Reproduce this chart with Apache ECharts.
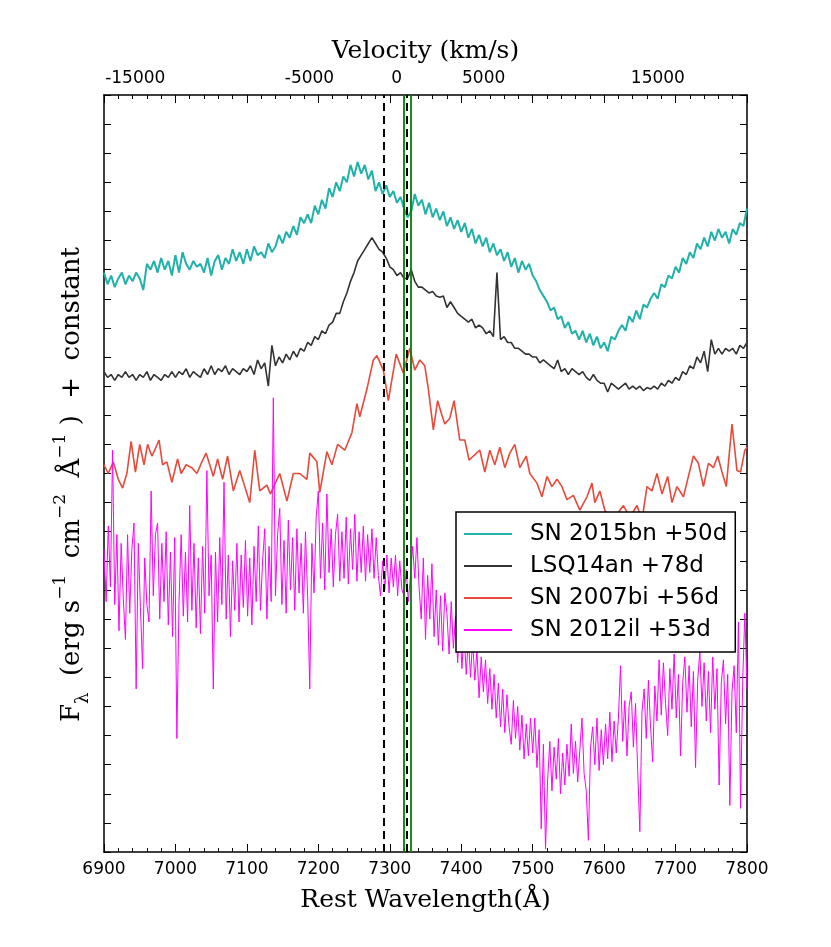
<!DOCTYPE html>
<html>
<head>
<meta charset="utf-8">
<title>SN 2015bn nebular line comparison</title>
<script src="https://cdn.jsdelivr.net/npm/echarts@6/dist/echarts.min.js"></script>
<style>
  html, body { margin: 0; padding: 0; background: #fff; }
  #chart { width: 831px; height: 947px; }
</style>
</head>
<body>
<div id="chart"></div>
<script>
// wavelength grids (Angstrom)
var wave5 = [];
for (var i = 0; i <= 180; i++) wave5.push(6900 + 5 * i);
var wave3 = [];
for (var j = 0; j <= 300; j++) wave3.push(6900 + 3 * j);

// SN 2015bn +50d, sampled every 5 A
var cyanFlux = [
  19.9, 19.5, 19.8, 19.4, 19.7, 19.9, 19.5, 19.8, 19.6, 19.9, 19.7, 19.3, 20.2, 20.0, 20.3, 19.9, 20.4, 20.0, 20.3, 19.8,
  20.5, 19.9, 20.6, 20.2, 20.0, 20.3, 20.1, 20.2, 19.9, 20.4, 19.8, 20.3, 20.5, 20.0, 20.4, 20.2, 20.7, 20.3, 20.6, 20.2,
  20.7, 20.3, 20.8, 20.5, 20.6, 20.4, 20.9, 20.6, 20.8, 21.2, 20.9, 21.3, 21.1, 21.5, 21.2, 21.8, 21.6, 21.9, 21.6, 22.2,
  21.9, 22.4, 22.1, 22.8, 22.5, 23.0, 22.7, 23.2, 23.0, 23.6, 23.2, 23.7, 23.3, 23.6, 23.1, 23.4, 22.7, 23.0, 22.6, 22.9,
  22.5, 22.7, 22.3, 22.5, 22.1, 21.8, 22.0, 22.6, 22.2, 22.4, 21.9, 22.3, 21.8, 22.1, 21.7, 22.0, 21.5, 21.8, 21.4, 21.7,
  21.3, 21.6, 21.1, 21.4, 20.9, 21.2, 20.8, 21.1, 20.6, 20.9, 20.5, 20.7, 20.3, 20.6, 20.1, 20.4, 19.9, 20.3, 20.0, 20.2,
  19.8, 19.6, 19.3, 19.1, 18.9, 18.6, 18.7, 18.3, 18.4, 18.0, 18.2, 17.8, 17.9, 17.6, 17.9, 17.5, 17.8, 17.4, 17.7, 17.3,
  17.5, 17.2, 17.7, 17.6, 17.9, 18.1, 17.9, 18.4, 18.2, 18.6, 18.3, 18.8, 18.7, 19.0, 19.2, 19.0, 19.5, 19.4, 19.8, 19.7,
  20.1, 19.9, 20.4, 20.2, 20.6, 20.4, 20.9, 20.7, 21.1, 20.8, 21.3, 21.0, 21.4, 21.1, 21.3, 20.9, 21.4, 21.2, 21.6, 21.5, 22.1
];

// LSQ14an +78d, sampled every 5 A
var blackFlux = [
  16.5, 16.3, 16.4, 16.2, 16.4, 16.3, 16.5, 16.3, 16.4, 16.2, 16.4, 16.3, 16.5, 16.2, 16.4, 16.3, 16.2, 16.4, 16.3, 16.5,
  16.3, 16.5, 16.4, 16.6, 16.3, 16.5, 16.4, 16.3, 16.6, 16.4, 16.7, 16.4, 16.6, 16.5, 16.7, 16.4, 16.6, 16.5, 16.4, 16.6,
  16.5, 16.7, 16.4, 16.9, 16.6, 16.8, 16.0, 17.4, 16.7, 17.0, 16.8, 17.1, 16.9, 17.2, 17.0, 17.3, 17.2, 17.5, 17.4, 17.7,
  17.6, 17.9, 17.8, 18.1, 18.2, 18.5, 18.5, 18.9, 19.2, 19.6, 19.9, 20.3, 20.5, 20.7, 20.9, 21.1, 20.9, 20.7, 20.6, 20.4,
  20.1, 20.0, 19.8, 19.9, 19.7, 19.7, 20.0, 19.6, 19.4, 19.4, 19.3, 19.2, 19.25, 19.1, 19.05, 19.1, 18.7, 18.9, 18.7, 18.5,
  18.4, 18.3, 18.2, 18.3, 18.0, 18.1, 18.0, 17.8, 17.9, 17.7, 19.9, 17.6, 17.7, 17.5, 17.5, 17.3, 17.3, 17.2, 17.1, 17.1,
  17.0, 17.0, 16.8, 16.9, 16.8, 16.7, 16.6, 16.9, 16.5, 16.6, 16.4, 16.6, 16.5, 16.4, 16.5, 16.3, 16.2, 16.4, 16.2, 16.1,
  16.1, 15.8, 16.1, 16.0, 15.9, 16.0, 16.1, 15.9, 16.0, 15.9, 16.0, 15.85, 15.95, 15.9, 16.0, 15.9, 16.1, 16.0, 16.2, 16.1,
  16.3, 16.2, 16.5, 16.4, 16.7, 16.6, 17.0, 16.8, 17.2, 16.5, 17.6, 17.1, 17.3, 17.1, 17.3, 17.2, 17.3, 17.1, 17.4, 17.3, 17.5
];

// SN 2007bi +56d (irregular sampling)
var redWave = [
  6900, 6906, 6913, 6920, 6926, 6932, 6938, 6944, 6950, 6956,
  6961, 6967, 6971, 6977, 6982, 6988, 6995, 7003, 7008, 7015,
  7023, 7030, 7037, 7043, 7053, 7059, 7066, 7073, 7081, 7090,
  7104, 7111, 7118, 7128, 7133, 7146, 7156, 7165, 7174, 7184,
  7188, 7198, 7202, 7212, 7219, 7227, 7237, 7247, 7254, 7258,
  7268, 7277, 7282, 7291, 7298, 7309, 7319, 7328, 7335, 7342,
  7349, 7354, 7361, 7367, 7373, 7377, 7384, 7390, 7398, 7405,
  7411, 7417, 7426, 7433, 7440, 7447, 7454, 7461, 7468, 7475,
  7482, 7491, 7496, 7506, 7513, 7520, 7527, 7534, 7541, 7548,
  7557, 7566, 7576, 7583, 7587, 7594, 7601, 7608, 7618, 7627,
  7636, 7646, 7653, 7660, 7667, 7674, 7681, 7689, 7695, 7702,
  7711, 7718, 7725, 7732, 7739, 7746, 7753, 7759, 7765, 7771,
  7779, 7786, 7791, 7797, 7800
];
var redFlux = [
  13.3, 13.0, 13.4, 12.8, 12.5, 13.0, 14.1, 13.05, 14.0, 13.3,
  14.0, 13.6, 13.8, 14.15, 13.3, 13.4, 12.7, 13.5, 13.0, 13.3,
  13.2, 13.0, 13.4, 13.7, 12.9, 13.5, 12.8, 13.6, 12.4, 13.1,
  12.0, 13.8, 12.4, 12.6, 12.3, 13.0, 12.05, 13.0, 13.0, 12.8,
  13.7, 13.4, 12.35, 13.75, 13.3, 14.0, 13.8, 14.4, 15.4, 14.95,
  15.9, 16.9, 17.05, 16.55, 15.5, 17.1, 16.45, 17.3, 16.55, 16.9,
  16.7, 15.9, 14.5, 15.5, 15.0, 14.7, 14.9, 15.5, 14.15, 14.15,
  13.46, 13.6, 13.8, 13.05, 13.8, 13.3, 13.9, 13.2, 13.7, 14.0,
  13.2, 13.6, 13.0, 12.67, 12.2, 12.9, 12.55, 12.8, 12.55, 12.1,
  12.25, 11.74, 12.2, 12.67, 12.0, 12.4, 11.74, 11.5, 11.6, 11.9,
  11.5, 11.9, 11.4, 12.55, 12.4, 13.0, 12.3, 12.9, 12.0, 12.55,
  12.2, 12.9, 13.6, 13.35, 12.55, 13.35, 13.2, 13.6, 13.05, 12.55,
  14.7, 13.1, 13.05, 13.8, 13.9
];

// SN 2012il +53d, sampled every 3 A
var magentaFlux = [
  10.4, 8.6, 11.2, 9.1, 13.8, 8.5, 10.9, 7.6, 10.6, 8.7, 7.3, 10.9, 8.2, 10.4, 11.3, 5.6, 10.6, 8.4, 6.3, 10.1,
  8.5, 7.9, 12.4, 8.8, 10.9, 11.3, 8.0, 10.6, 8.6, 11.0, 7.8, 10.3, 7.4, 10.8, 3.9, 8.6, 10.9, 8.1, 10.3, 7.9,
  11.9, 8.3, 10.6, 7.7, 10.1, 7.5, 10.5, 8.2, 13.1, 8.8, 10.2, 5.6, 10.3, 7.9, 10.8, 8.5, 12.7, 8.0, 10.2, 7.4,
  10.0, 8.3, 10.6, 7.9, 10.2, 8.4, 10.7, 8.1, 10.1, 7.8, 10.5, 8.6, 11.2, 8.3, 10.0, 11.1, 8.0, 10.5, 8.6, 15.6,
  8.8, 10.9, 11.8, 8.5, 10.7, 8.2, 11.4, 9.0, 10.8, 8.3, 11.1, 8.9, 10.6, 8.2, 11.0, 8.8, 5.6, 10.6, 8.9, 11.5,
  12.4, 9.4, 11.3, 9.0, 12.3, 9.6, 11.1, 9.1, 10.9, 11.6, 9.3, 11.0, 9.4, 11.5, 9.2, 11.1, 9.7, 11.6, 9.3, 11.0,
  9.6, 11.2, 9.3, 10.9, 9.6, 11.1, 9.4, 10.8, 9.5, 8.8, 10.0, 9.0, 10.2, 8.9, 10.1, 9.1, 10.2, 8.8, 10.0, 9.0,
  8.8, 9.7, 8.6, 9.5, 10.5, 9.4, 10.8, 9.1, 8.0, 10.1, 7.3, 9.5, 8.0, 9.9, 7.4, 9.0, 7.1, 8.8, 6.9, 8.9,
  8.2, 6.8, 8.6, 7.0, 8.1, 6.5, 7.9, 6.3, 7.6, 6.1, 7.4, 6.0, 7.3, 5.9, 6.9, 5.3, 6.7, 5.5, 6.6, 5.1,
  6.3, 4.9, 6.1, 4.6, 5.8, 4.3, 5.6, 4.1, 5.4, 4.3, 3.7, 5.2, 3.9, 5.0, 3.5, 4.7, 3.2, 4.4, 3.3, 4.6,
  3.4, 4.6, 2.9, 4.2, 0.8, 3.7, 0.1, 2.5, 3.8, 2.1, 3.6, 2.5, 3.9, 2.0, 3.4, 2.3, 3.7, 2.6, 4.4, 2.7,
  3.8, 2.4, 3.5, 4.6, 2.7, 2.1, 0.4, 3.6, 4.3, 3.0, 4.6, 2.8, 4.2, 3.0, 4.4, 3.2, 4.8, 3.1, 4.5, 3.4,
  4.6, 6.4, 3.8, 5.2, 3.3, 5.0, 5.5, 3.6, 5.1, 2.8, 0.7, 4.8, 5.6, 3.9, 5.9, 4.3, 3.1, 5.7, 4.5, 6.6,
  4.7, 6.5, 5.1, 4.0, 6.3, 4.9, 6.8, 4.6, 6.1, 3.3, 5.8, 6.7, 4.8, 6.4, 4.3, 6.2, 2.9, 5.9, 6.9, 5.0,
  6.5, 4.5, 6.2, 4.1, 6.7, 4.9, 6.3, 2.3, 5.8, 6.6, 4.4, 6.1, 1.6, 5.5, 6.4, 4.1, 7.9, 1.5, 5.9, 8.2, 5.6
];

// line markers
var caLines = [7291, 7324];   // [Ca II] dashed
var oLines = [7320, 7330];    // [O II] green

// top axis: velocity labels
var C_KMS = 299792.458;
var lam0 = 7309.5;
var velTicks = [-15000, -5000, 0, 5000, 15000];
var velTickLam = velTicks.map(function (v) { return lam0 * (1 + v / C_KMS); });

var names = ['SN 2015bn +50d', 'LSQ14an +78d', 'SN 2007bi +56d', 'SN 2012il +53d'];
var colors = ['#20b2aa', '#333333', '#e8493a', '#ff00ff'];

function zip(xs, ys) {
  return ys.map(function (y, k) { return [xs[k], y]; });
}

var myChart = echarts.init(document.getElementById('chart'), null, { renderer: 'canvas' });

var axisCommon = {
  type: 'value',
  min: 6900,
  max: 7800,
  interval: 100,
  axisLine: { show: true, onZero: false, lineStyle: { color: '#000', width: 1.5 } },
  axisTick: { show: true, inside: true, length: 8, lineStyle: { color: '#000', width: 1 } },
  minorTick: { show: true, splitNumber: 5, length: 4, lineStyle: { color: '#000', width: 1 } },
  splitLine: { show: false }
};

var yCommon = {
  type: 'value',
  min: 0,
  max: 26,
  interval: 1,
  axisLine: { show: true, onZero: false, lineStyle: { color: '#000', width: 1.5 } },
  axisTick: { show: true, inside: true, length: 7, lineStyle: { color: '#000', width: 1 } },
  axisLabel: { show: false },
  splitLine: { show: false }
};

var option = {
  animation: false,
  backgroundColor: '#fff',
  grid: { left: 104, right: 84, top: 95, bottom: 95 },
  xAxis: [
    Object.assign({}, axisCommon, {
      position: 'bottom',
      axisLabel: {
        color: '#000', fontFamily: 'DejaVu Sans', fontSize: 17, margin: 9,
        formatter: function (val) { return String(val); }
      },
      name: 'Rest Wavelength(Å)',
      nameLocation: 'middle',
      nameGap: 36,
      nameTextStyle: { color: '#000', fontFamily: 'DejaVu Serif', fontSize: 25 }
    }),
    Object.assign({}, axisCommon, {
      position: 'top',
      axisLabel: {
        color: '#000', fontFamily: 'DejaVu Sans', fontSize: 17, margin: 8,
        customValues: velTickLam,
        formatter: function (val) {
          var v = Math.round(C_KMS * (val / lam0 - 1) / 100) * 100;
          return String(v);
        }
      },
      name: 'Velocity (km/s)',
      nameLocation: 'middle',
      nameGap: 31,
      nameTextStyle: { color: '#000', fontFamily: 'DejaVu Serif', fontSize: 25 }
    })
  ],
  yAxis: [
    Object.assign({}, yCommon, {
      position: 'left',
      name: '{t|F}{sub|λ}{t|  (erg s}{sup|−1}{t|  cm}{sup|−2}{t|  Å}{sup|−1}{t| )  +  constant}',
      nameLocation: 'middle',
      nameRotate: 90,
      nameGap: 12,
      nameTextStyle: {
        color: '#000',
        padding: [0, 22, 0, 0],
        rich: {
          t: { fontFamily: 'DejaVu Serif', fontSize: 26, color: '#000', lineHeight: 40 },
          sup: { fontFamily: 'DejaVu Serif', fontSize: 17, color: '#000', lineHeight: 17, verticalAlign: 'top' },
          sub: { fontFamily: 'DejaVu Serif', fontSize: 18, color: '#000', lineHeight: 18, verticalAlign: 'bottom' }
        }
      }
    }),
    Object.assign({}, yCommon, { position: 'right' })
  ],
  legend: {
    data: names,
    orient: 'vertical',
    left: 456,
    top: 512,
    icon: 'rect',
    itemWidth: 48,
    itemHeight: 2,
    itemGap: 8,
    padding: [10, 8, 10, 8],
    borderColor: '#000',
    borderWidth: 1.5,
    borderRadius: 0,
    backgroundColor: '#fff',
    selectedMode: false,
    textStyle: { color: '#000', fontFamily: 'DejaVu Sans', fontSize: 23, lineHeight: 24, padding: [0, 0, 0, 13] }
  },
  series: [
    {
      name: names[0], type: 'line', data: zip(wave5, cyanFlux), showSymbol: false,
      color: colors[0], lineStyle: { color: colors[0], width: 2 }, z: 2
    },
    {
      name: names[1], type: 'line', data: zip(wave5, blackFlux), showSymbol: false,
      color: colors[1], lineStyle: { color: colors[1], width: 1.6 }, z: 2
    },
    {
      name: names[2], type: 'line', data: zip(redWave, redFlux), showSymbol: false,
      color: colors[2], lineStyle: { color: colors[2], width: 1.6 }, z: 2
    },
    {
      name: names[3], type: 'line', data: zip(wave3, magentaFlux), showSymbol: false,
      color: colors[3], lineStyle: { color: colors[3], width: 1 }, z: 2
    },
    {
      name: 'OII', type: 'line', data: [], z: 3,
      markLine: {
        silent: true, symbol: 'none', label: { show: false },
        lineStyle: { color: '#008000', width: 1.8, type: 'solid' },
        data: oLines.map(function (x) { return { xAxis: x }; })
      }
    },
    {
      name: 'CaII', type: 'line', data: [], z: 3,
      markLine: {
        silent: true, symbol: 'none', label: { show: false },
        lineStyle: { color: '#000', width: 2, type: [8, 5] },
        data: caLines.map(function (x) { return { xAxis: x }; })
      }
    }
  ]
};

myChart.setOption(option);
</script>
</body>
</html>
